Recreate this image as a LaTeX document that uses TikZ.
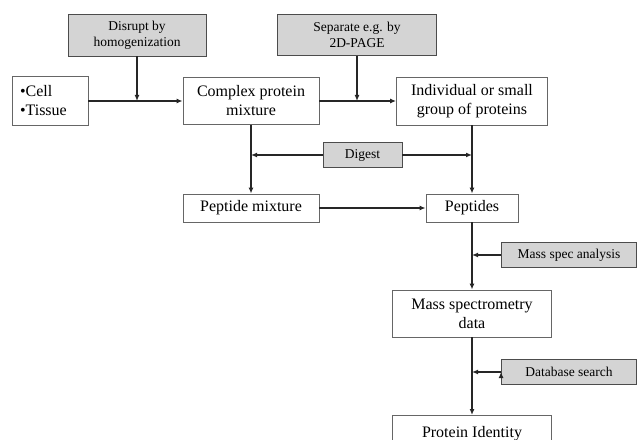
\documentclass[tikz,border=0pt]{standalone}
\usepackage{fontspec}
\setmainfont{Liberation Serif}
\usetikzlibrary{
    arrows.meta,
    calc,
    positioning
}

\begin{document}
\begin{tikzpicture}[x=1bp, y=-1bp,
    >={Latex[length=6bp, width=5bp]},
    mainbox/.style={draw=black!60, line width=0.9bp, fill=white, align=center,
        inner sep=2bp, font=\fontsize{16bp}{19bp}\selectfont},
    greybox/.style={draw=black!70, line width=0.9bp, fill=black!17, align=center,
        inner sep=2bp, font=\fontsize{13.5bp}{16bp}\selectfont},
    link/.style={->, line width=1.2bp, black!85}]

                        \useasboundingbox (0, 0) rectangle (637, 440);
                        \clip (0, 0) rectangle (637, 440);

                        % boxes on top
                        \node[greybox, minimum width=138bp, minimum height=42bp] (disrupt) at (137, 35) {Disrupt by\\homogenization};
                        \node[greybox, minimum width=159bp, minimum height=41bp] (separate) at (357, 35) {Separate e.g. by\\2D-PAGE};

                        % main row
                        \node[mainbox, minimum width=76bp, minimum height=49bp, text width=60bp, align=left] (cell) at (50, 101) {\textbullet Cell\\\textbullet Tissue};
                        \node[mainbox, minimum width=136bp, minimum height=47bp] (complex) at (251, 101) {Complex protein\\mixture};
                        \node[mainbox, minimum width=151bp, minimum height=48bp] (indiv) at (472, 101) {Individual or small\\group of proteins};

                        \node[greybox, minimum width=79bp, minimum height=25bp] (digest) at (362.5, 155) {Digest};

                        \node[mainbox, minimum width=136bp, minimum height=28bp] (pepmix) at (251, 208) {Peptide mixture};
                        \node[mainbox, minimum width=92bp, minimum height=28bp] (peptides) at (472, 208) {Peptides};

                        \node[greybox, minimum width=135bp, minimum height=25bp] (msanal) at (569, 255) {Mass spec analysis};
                        \node[mainbox, minimum width=159bp, minimum height=47bp] (msdata) at (472, 313.5) {Mass spectrometry\\data};
                        \node[greybox, minimum width=135bp, minimum height=25bp] (dbsearch) at (569, 372) {Database search};
                        \node[mainbox, minimum width=159bp, anchor=north, inner ysep=4bp, text height=18bp, text depth=20bp] (protid) at (472, 415) {Protein Identity};

                        % connectors
                        \draw[link]
                        (cell.east) edge (complex.west)
                        (disrupt.south) edge (disrupt.south |- complex.west)
                        (complex.east) edge (indiv.west)
                        (separate.south) edge (separate.south |- indiv.west)
                        (complex.south) edge (pepmix.north)
                        (indiv.south) edge (peptides.north)
                        (digest.west) edge (complex.south |- digest.west)
                        (digest.east) edge (indiv.south |- digest.east)
                        (pepmix.east) edge (peptides.west)
                        (peptides.south) edge (msdata.north)
                        (msanal.west) edge (peptides.south |- msanal.west)
                        (msdata.south) edge (protid.north)
                        (dbsearch.west) edge (msdata.south |- dbsearch.west);
\end{tikzpicture}
\end{document}
